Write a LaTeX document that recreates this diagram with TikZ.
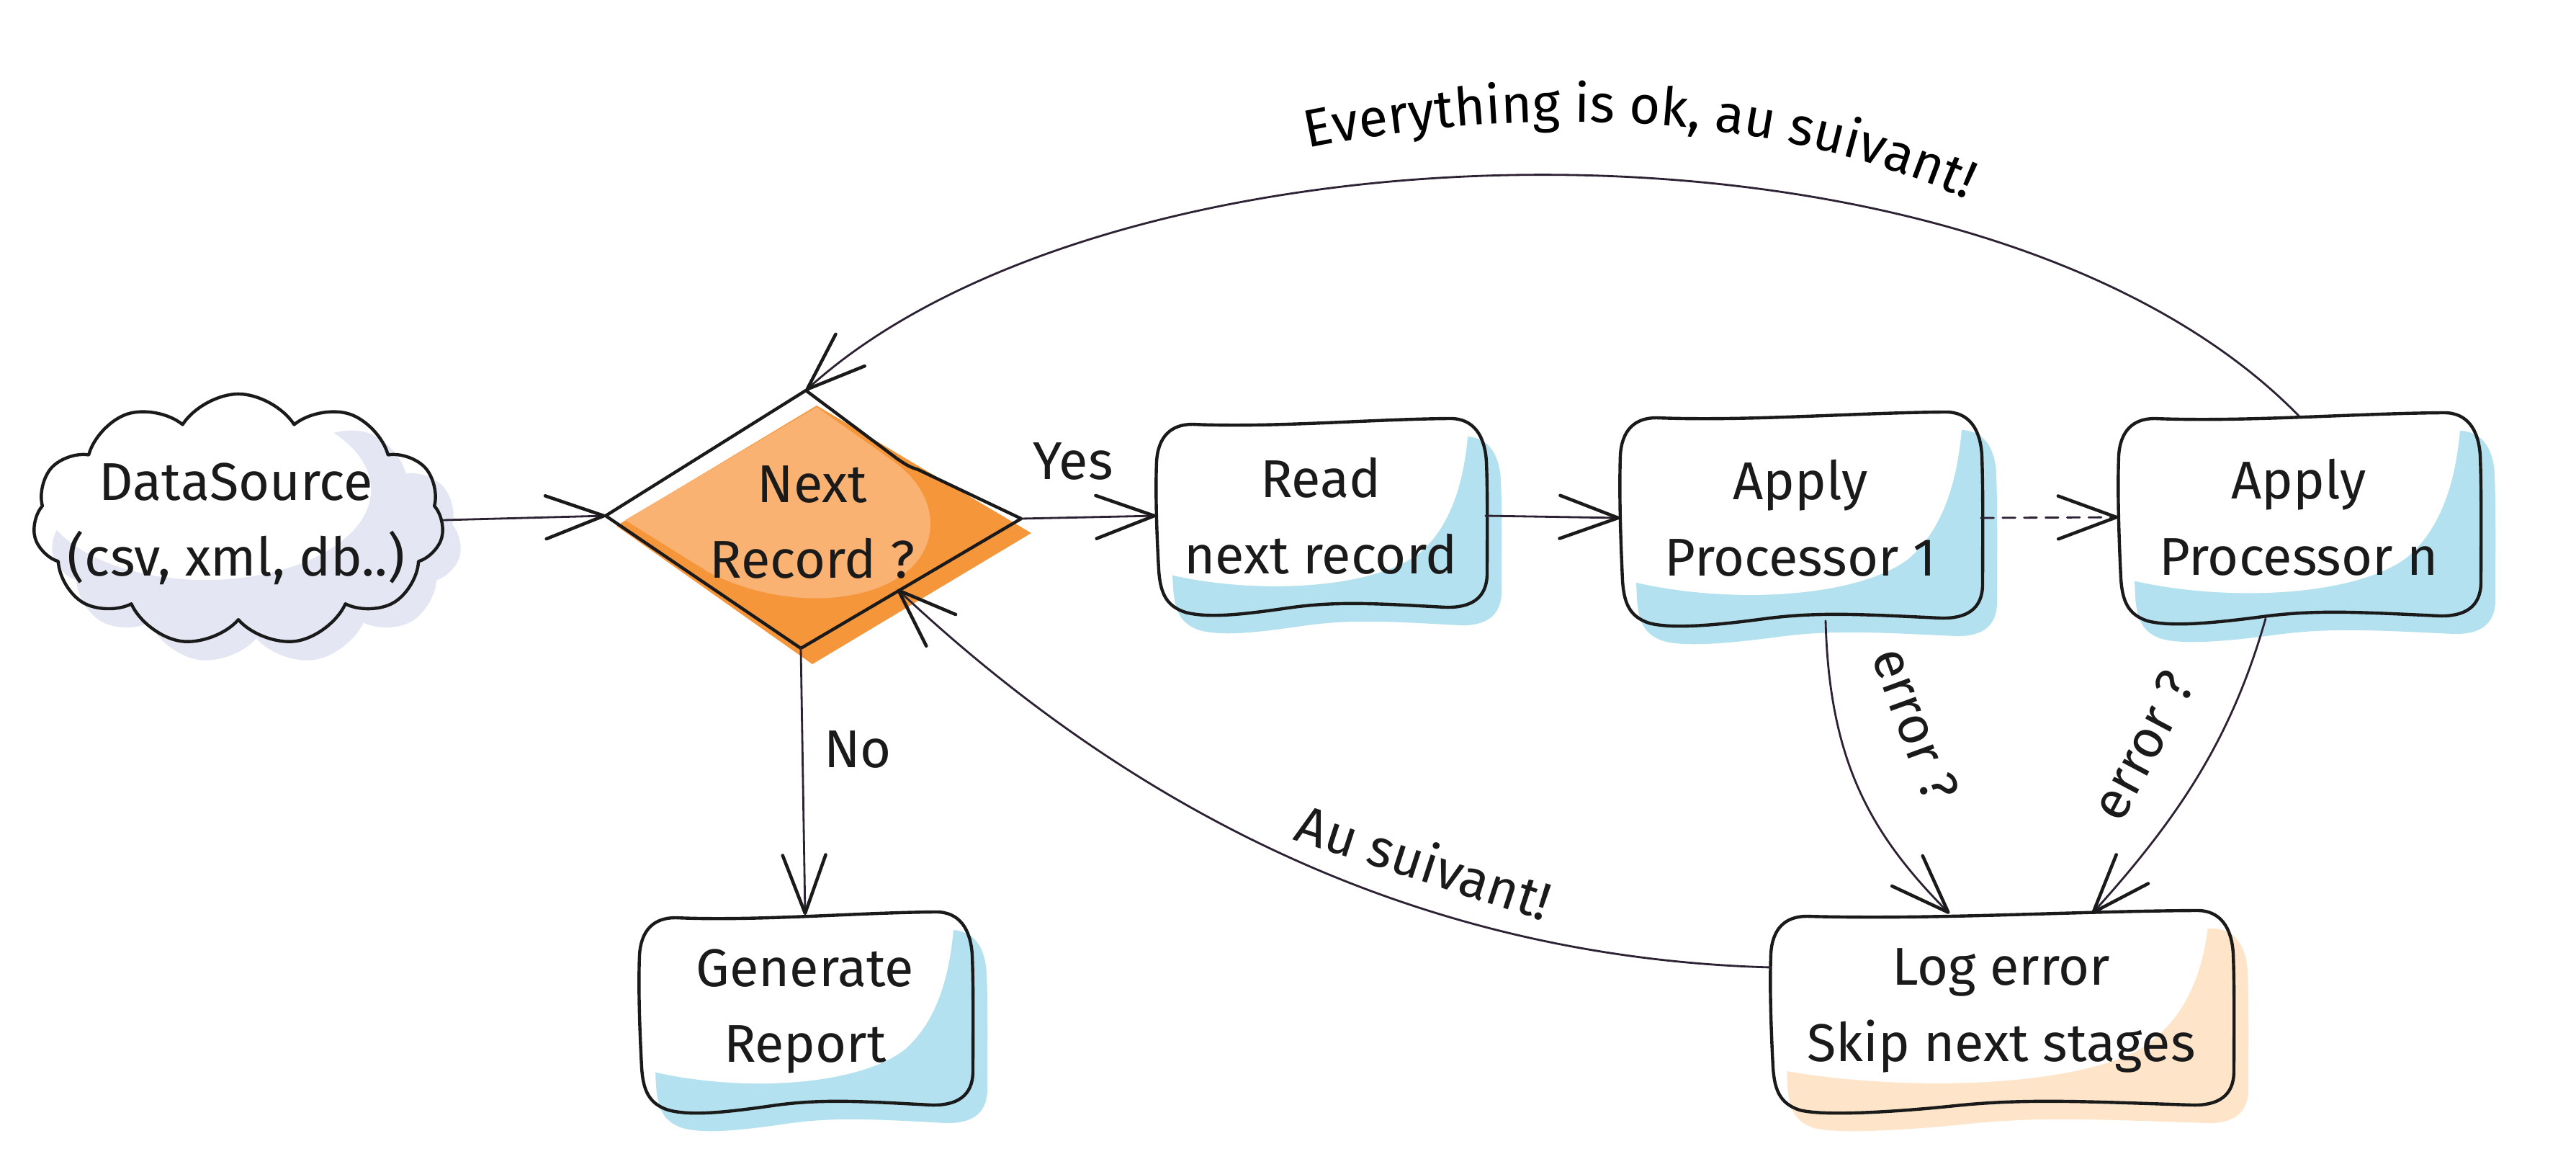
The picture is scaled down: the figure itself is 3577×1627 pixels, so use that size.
\documentclass[tikz,border=0pt]{standalone}
\usepackage{fontspec}
\setmainfont{Fira Sans}
\usetikzlibrary{arrows.meta,calc,shapes.geometric,shapes.symbols,decorations.text}
\definecolor{ink}{HTML}{1A1A1A}
\definecolor{wire}{HTML}{2D2233}
\definecolor{skyb}{HTML}{B3E1EF}
\definecolor{peach}{HTML}{FEE5C9}
\definecolor{lav}{HTML}{E4E6F4}
\definecolor{orD}{HTML}{F5963B}
\definecolor{orL}{HTML}{F9B272}
\newcommand\lblfnt{\fontsize{21}{25}\selectfont}
% hand drawn rounded box outline, half width #1, half height #2 (pixels)
\newcommand\sbpath[2]{({-#1+50},{-#2+3}) .. controls ({-0.3*#1},{-#2+8}) and ({0.3*#1},{-#2-4}) .. ({#1-50},{-#2-5})
 .. controls ({#1-15},{-#2-6}) and ({#1},{-#2+20}) .. ({#1+2},{-#2+55})
 .. controls ({#1+4},{-0.2*#2}) and ({#1+3},{0.3*#2}) .. ({#1+3},{#2-50})
 .. controls ({#1+3},{#2-15}) and ({#1-20},{#2-2}) .. ({#1-55},{#2-3})
 .. controls ({0.35*#1},{#2-8}) and ({0.1*#1},{#2-12}) .. ({-0.2*#1},{#2-2})
 .. controls ({-0.5*#1},{#2+8}) and ({-#1+70},{#2+12}) .. ({-#1+40},{#2+4})
 .. controls ({-#1+12},{#2-5}) and ({-#1+5},{#2-25}) .. ({-#1+3},{#2-55})
 .. controls ({-#1+1},{0.3*#2}) and ({-#1-2},{-0.2*#2}) .. ({-#1},{-#2+55})
 .. controls ({-#1+2},{-#2+20}) and ({-#1+20},{-#2+3}) .. cycle}
\newcommand\hlpath[2]{({-#1+3},{0.6*#2}) .. controls ({-0.45*#1},{0.85*#2}) and ({0.3*#1},{0.8*#2}) .. ({0.6*#1},{0.4*#2})
 .. controls ({0.8*#1},{0.1*#2}) and ({0.88*#1},{-0.4*#2}) .. ({0.9*#1},{-#2+5})
 -- ({0.9*#1},{-#2-8}) -- ({-#1},{-#2-8}) -- cycle}
\tikzset{
  hand/.style={font=\fontsize{21}{30}\selectfont, text=ink, align=center},
  boxnode/.style={hand, draw=none, inner sep=0pt, rectangle},
  outline/.style={draw=ink, line width=1.25pt, line join=round, line cap=round},
  conn/.style={draw=wire, line width=0.8pt, line cap=round,
    -{Straight Barb[length=23pt,width=17pt,line width=1.3pt,round,color=ink]}},
  lbl/.style={font=\lblfnt, text=ink, inner sep=0pt},
  cloudsh/.style={cloud, cloud puffs=11, cloud puff arc=115, aspect=1.55,
    minimum width=5.7cm, minimum height=3.5cm},
  pics/sbox/.style args={#1/#2/#3}{code={
    \fill[#3, shift={(20,25)}] \sbpath{#1}{#2};
    \fill[white] \hlpath{#1}{#2};
    \draw[outline] \sbpath{#1}{#2};
  }}
}
\begin{document}
\begin{tikzpicture}[x=0.01cm, y=-0.01cm]
\useasboundingbox (0,0) rectangle (3577,1627);
\fill[white] (0,0) rectangle (3577,1627);

% ---- cloud data source
\node[cloudsh, fill=lav, draw=none] (srcsh) at (356,748) {};
\fill[white] (285,680) ellipse [x radius=2.3cm, y radius=1.25cm];
\node[cloudsh, outline] (src) at (331,722) {};
\node[hand] (srctxt) at (328,727) {DataSource\\(csv, xml, db..)};

% ---- decision diamond
\coordinate (dL) at (841,716);
\coordinate (dT) at (1119,542);
\coordinate (dR) at (1418,720);
\coordinate (dB) at (1112,900);
\coordinate (dBR) at (1246,818);
\fill[orD] (856,730) -- (1134,563) -- (1432,740) -- (1128,922) -- cycle;
\fill[orL] (868,722) -- (1134,565) -- (1240,640) .. controls (1310,690) and (1305,765) .. (1250,800)
  .. controls (1195,838) and (1085,845) .. (985,795) -- cycle;
\draw[outline] (dL) -- (dT) -- (1246,637) .. controls (1258,645) and (1262,648) .. (1275,652) -- (dR) -- (dB) -- cycle;
\node[hand] (next) at (1128,725) {Next\\Record ?};

% ---- boxes
\pic at (1834,716) {sbox={228/130/skyb}};
\node[boxnode, minimum width=4.56cm, minimum height=2.6cm] (read) at (1834,716) {Read\\next record};
\pic at (2500,719) {sbox={250/142/skyb}};
\node[boxnode, minimum width=5cm, minimum height=2.84cm] (apply1) at (2500,719) {Apply\\Processor 1};
\pic at (3192,718) {sbox={250/140/skyb}};
\node[boxnode, minimum width=5cm, minimum height=2.8cm] (applyn) at (3192,718) {Apply\\Processor n};
\pic at (1118,1404) {sbox={230/133/skyb}};
\node[boxnode, minimum width=4.6cm, minimum height=2.66cm] (report) at (1118,1404) {Generate\\Report};
\pic at (2779,1403) {sbox={320/134/peach}};
\node[boxnode, minimum width=6.4cm, minimum height=2.68cm] (log) at (2779,1403) {Log error\\Skip next stages};

% ---- connectors
\draw[conn] (src.east) -- (dL);
\draw[conn] (dR) -- (read.west);
\draw[conn] (read.east) -- (apply1.west);
\draw[conn, dash pattern=on 5pt off 3.5pt] (apply1.east) -- (applyn.west);
\draw[conn] (applyn.north) .. controls (2750,125) and (1550,150) .. (dT);
\draw[conn] (dB) -- (report.north);
\draw[conn] ([xshift=0.35cm]apply1.south) .. controls (2540,1060) and (2600,1160) .. ([xshift=-0.72cm]log.north);
\draw[conn] ([xshift=-0.46cm]applyn.south) .. controls (3100,1020) and (3030,1130) .. ([xshift=1.26cm]log.north);
\draw[conn] ([yshift=0.6cm]log.west) .. controls (2000,1330) and (1600,1150) .. (dBR);

% ---- labels
\node[lbl] (yes) at (1490,640) {Yes};
\node[lbl] (no) at (1191,1040) {No};
\node[lbl, rotate=-70] (err1) at (2660,1005) {error ?};
\node[lbl, rotate=62] (err2) at (2975,1035) {error ?};
\node[lbl, rotate=-18] (ausuiv) at (1978,1195) {Au suivant!};
\path[decorate, decoration={text along path, text align=center,
  text={|\lblfnt|Everything is ok, au suivant!}}]
  (1650,250) .. controls (1950,150) and (2500,100) .. (2880,360);
\end{tikzpicture}
\end{document}
